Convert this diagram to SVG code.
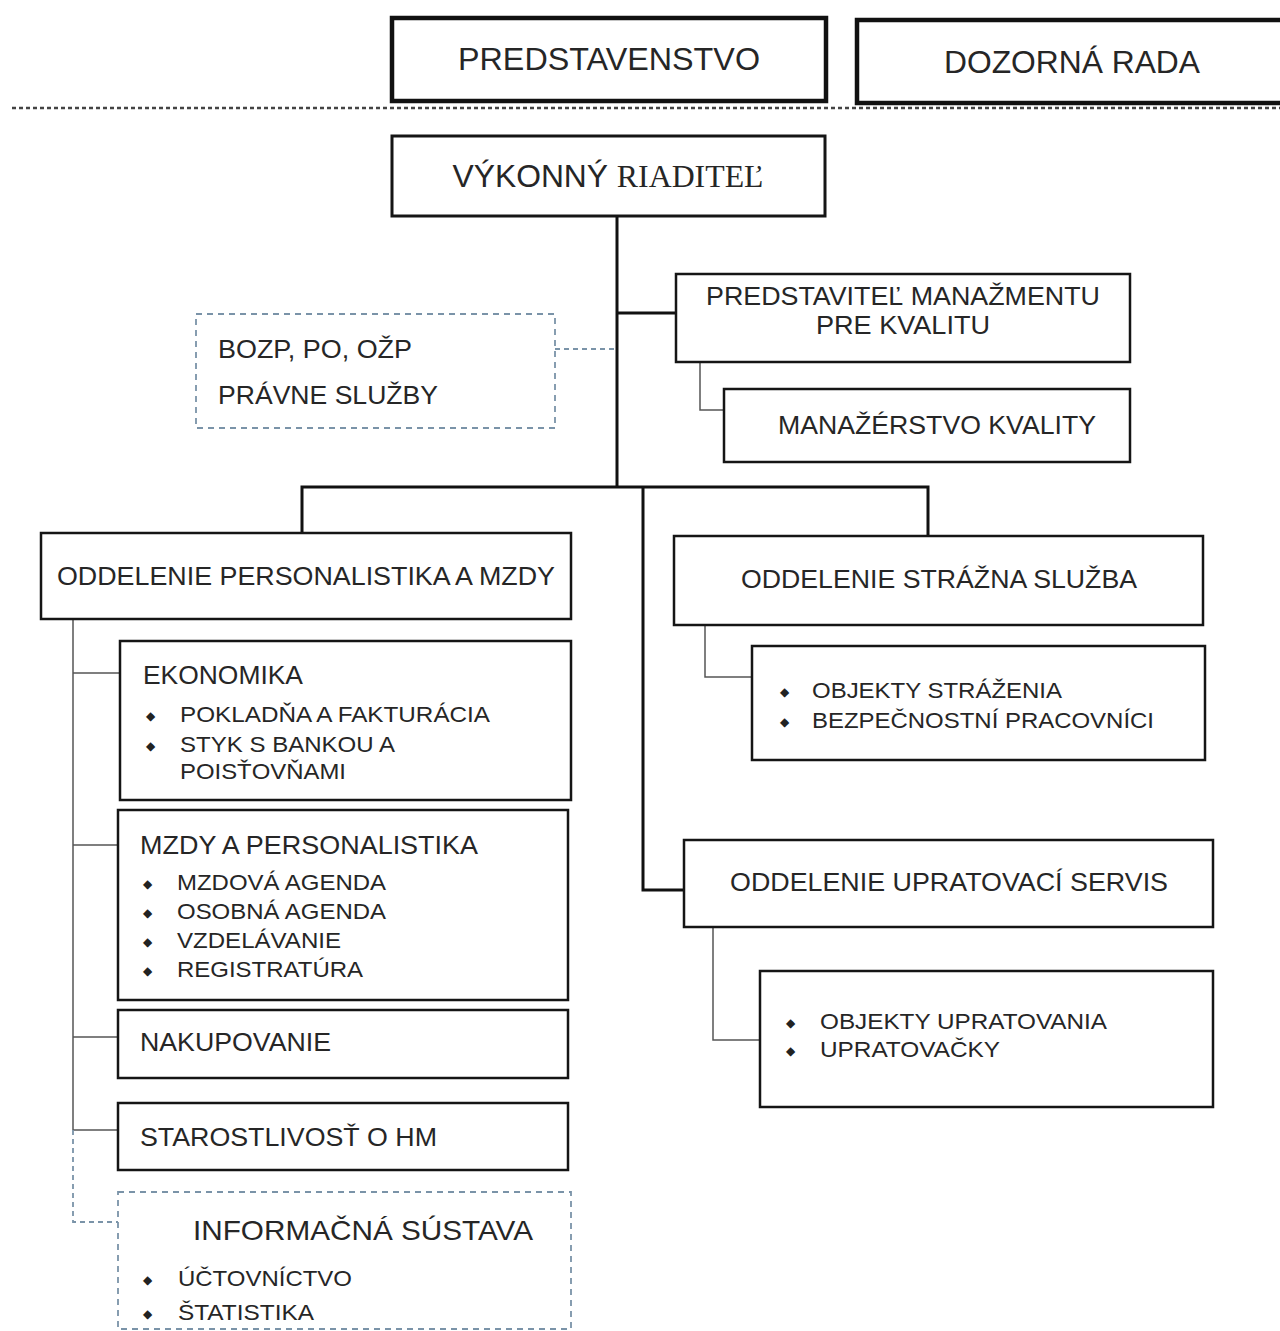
<svg xmlns="http://www.w3.org/2000/svg" width="1280" height="1331" viewBox="0 0 1280 1331">
<style>
  .box{fill:#fff;stroke:#151515;stroke-width:2.5}
  .thick{fill:#fff;stroke:#111;stroke-width:4.5}
  .dbox{fill:none;stroke:#7a93a8;stroke-width:1.8;stroke-dasharray:6 5}
  .t{font-family:"Liberation Sans",Arial,sans-serif;fill:#262626}
  .big{font-size:31px}
  .m{font-size:25px}
  .s{font-size:22px}
  .b{font-family:"DejaVu Sans",sans-serif;font-size:12px;fill:#222}
  .c{text-anchor:middle}
  .bus{fill:none;stroke:#111;stroke-width:3}
  .thin{fill:none;stroke:#555;stroke-width:1.5}
  .dash{fill:none;stroke:#7a93a8;stroke-width:1.8;stroke-dasharray:5 4}
  .sep{fill:none;stroke:#444;stroke-width:2.5;stroke-dasharray:4 3}
</style>
<rect width="1280" height="1331" fill="#fff"/>
<g id="connectors">
  <path class="sep" d="M12 108 H1280"/>
  <path class="bus" d="M617 216 V487"/>
  <path class="bus" d="M617 313 H676"/>
  <path class="thin" d="M700 362 V410 H724"/>
  <path class="dash" d="M555 349 H617"/>
  <path class="bus" d="M302 533 V487 H928 V537"/>
  <path class="bus" d="M643 487 V890 H685"/>
  <path class="thin" d="M73 619 V1130"/>
  <path class="thin" d="M73 673 H120"/>
  <path class="thin" d="M73 845 H118"/>
  <path class="thin" d="M73 1037 H118"/>
  <path class="thin" d="M73 1130 H118"/>
  <path class="dash" d="M73 1130 V1222 H118"/>
  <path class="thin" d="M705 625 V677 H752"/>
  <path class="thin" d="M713 927 V1040 H760"/>
</g>
<g id="predstavenstvo">
  <rect class="thick" x="392" y="18" width="434" height="83"/>
  <text class="t big c" x="609" y="70" textLength="302" lengthAdjust="spacingAndGlyphs">PREDSTAVENSTVO</text>
</g>
<g id="dozorna-rada">
  <rect class="thick" x="857" y="20" width="430" height="83"/>
  <text class="t big c" x="1072" y="73" textLength="256" lengthAdjust="spacingAndGlyphs">DOZORNÁ RADA</text>
</g>
<g id="vykonny-riaditel">
  <rect class="box" x="392" y="136" width="433" height="80" style="stroke-width:3"/>
  <text class="t big c" x="608" y="187" textLength="311" lengthAdjust="spacingAndGlyphs">VÝKONNÝ <tspan style="font-family:'Liberation Serif',serif">RIADITEĽ</tspan></text>
</g>
<g id="predstavitel">
  <rect class="box" x="676" y="274" width="454" height="88"/>
  <text class="t m c" x="903" y="305" textLength="394" lengthAdjust="spacingAndGlyphs">PREDSTAVITEĽ MANAŽMENTU</text>
  <text class="t m c" x="903" y="334" textLength="174" lengthAdjust="spacingAndGlyphs">PRE KVALITU</text>
</g>
<g id="manazerstvo">
  <rect class="box" x="724" y="389" width="406" height="73"/>
  <text class="t m c" x="937" y="434" textLength="318" lengthAdjust="spacingAndGlyphs">MANAŽÉRSTVO KVALITY</text>
</g>
<g id="bozp">
  <rect class="dbox" x="196" y="314" width="359" height="114"/>
  <text class="t m" x="218" y="358" textLength="194" lengthAdjust="spacingAndGlyphs">BOZP, PO, OŽP</text>
  <text class="t m" x="218" y="404" textLength="220" lengthAdjust="spacingAndGlyphs">PRÁVNE SLUŽBY</text>
</g>
<g id="personalistika">
  <rect class="box" x="41" y="533" width="530" height="86"/>
  <text class="t m" x="57" y="585" textLength="498" lengthAdjust="spacingAndGlyphs">ODDELENIE PERSONALISTIKA A MZDY</text>
</g>
<g id="ekonomika">
  <rect class="box" x="120" y="641" width="451" height="159"/>
  <text class="t m" x="143" y="684" textLength="160" lengthAdjust="spacingAndGlyphs">EKONOMIKA</text>
  <text class="b" x="146" y="720">◆</text>
  <text class="t s" x="180" y="722" textLength="310" lengthAdjust="spacingAndGlyphs">POKLADŇA A FAKTURÁCIA</text>
  <text class="b" x="146" y="750">◆</text>
  <text class="t s" x="180" y="752" textLength="215" lengthAdjust="spacingAndGlyphs">STYK S BANKOU A</text>
  <text class="t s" x="180" y="779" textLength="166" lengthAdjust="spacingAndGlyphs">POISŤOVŇAMI</text>
</g>
<g id="mzdy">
  <rect class="box" x="118" y="810" width="450" height="190"/>
  <text class="t m" x="140" y="854" textLength="338" lengthAdjust="spacingAndGlyphs">MZDY A PERSONALISTIKA</text>
  <text class="b" x="143" y="888">◆</text>
  <text class="t s" x="177" y="890" textLength="209" lengthAdjust="spacingAndGlyphs">MZDOVÁ AGENDA</text>
  <text class="b" x="143" y="917">◆</text>
  <text class="t s" x="177" y="919" textLength="209" lengthAdjust="spacingAndGlyphs">OSOBNÁ AGENDA</text>
  <text class="b" x="143" y="946">◆</text>
  <text class="t s" x="177" y="948" textLength="164" lengthAdjust="spacingAndGlyphs">VZDELÁVANIE</text>
  <text class="b" x="143" y="975">◆</text>
  <text class="t s" x="177" y="977" textLength="186" lengthAdjust="spacingAndGlyphs">REGISTRATÚRA</text>
</g>
<g id="nakupovanie">
  <rect class="box" x="118" y="1010" width="450" height="68"/>
  <text class="t m" x="140" y="1051" textLength="191" lengthAdjust="spacingAndGlyphs">NAKUPOVANIE</text>
</g>
<g id="starostlivost">
  <rect class="box" x="118" y="1103" width="450" height="67"/>
  <text class="t m" x="140" y="1146" textLength="297" lengthAdjust="spacingAndGlyphs">STAROSTLIVOSŤ O HM</text>
</g>
<g id="informacna">
  <rect class="dbox" x="118" y="1192" width="453" height="137"/>
  <text class="t c" style="font-size:28px" x="363" y="1240" textLength="340" lengthAdjust="spacingAndGlyphs">INFORMAČNÁ SÚSTAVA</text>
  <text class="b" x="143" y="1284">◆</text>
  <text class="t s" x="178" y="1286" textLength="174" lengthAdjust="spacingAndGlyphs">ÚČTOVNÍCTVO</text>
  <text class="b" x="143" y="1318">◆</text>
  <text class="t s" x="178" y="1320" textLength="136" lengthAdjust="spacingAndGlyphs">ŠTATISTIKA</text>
</g>
<g id="strazna">
  <rect class="box" x="674" y="536" width="529" height="89"/>
  <text class="t m c" x="939" y="588" textLength="396" lengthAdjust="spacingAndGlyphs">ODDELENIE STRÁŽNA SLUŽBA</text>
</g>
<g id="strazna-sub">
  <rect class="box" x="752" y="646" width="453" height="114"/>
  <text class="b" x="780" y="696">◆</text>
  <text class="t s" x="812" y="698" textLength="250" lengthAdjust="spacingAndGlyphs">OBJEKTY STRÁŽENIA</text>
  <text class="b" x="780" y="726">◆</text>
  <text class="t s" x="812" y="728" textLength="342" lengthAdjust="spacingAndGlyphs">BEZPEČNOSTNÍ PRACOVNÍCI</text>
</g>
<g id="upratovaci">
  <rect class="box" x="684" y="840" width="529" height="87"/>
  <text class="t m c" x="949" y="891" textLength="438" lengthAdjust="spacingAndGlyphs">ODDELENIE UPRATOVACÍ SERVIS</text>
</g>
<g id="upratovaci-sub">
  <rect class="box" x="760" y="971" width="453" height="136"/>
  <text class="b" x="786" y="1027">◆</text>
  <text class="t s" x="820" y="1029" textLength="287" lengthAdjust="spacingAndGlyphs">OBJEKTY UPRATOVANIA</text>
  <text class="b" x="786" y="1055">◆</text>
  <text class="t s" x="820" y="1057" textLength="180" lengthAdjust="spacingAndGlyphs">UPRATOVAČKY</text>
</g>
</svg>
